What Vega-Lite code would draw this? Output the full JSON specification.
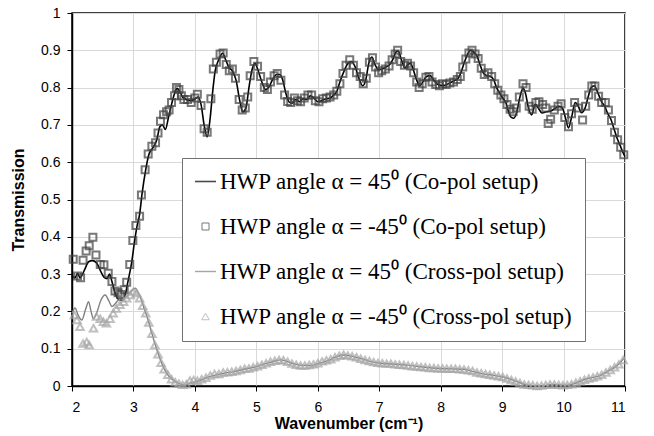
{
  "$schema": "https://vega.github.io/schema/vega-lite/v6.json",
  "width": 553,
  "height": 373,
  "autosize": {"type": "none"},
  "padding": {"left": 72, "top": 13, "right": 29, "bottom": 50},
  "background": "white",
  "config": {
    "view": {"stroke": "black", "strokeWidth": 1.5},
    "axis": {
      "labelFont": "Liberation Sans", "labelFontSize": 14, "labelColor": "black",
      "titleFont": "Liberation Sans", "titleFontSize": 16, "titleFontWeight": "bold", "titleColor": "black",
      "domainColor": "black", "domainWidth": 1.5, "tickColor": "black", "tickSize": 5,
      "gridColor": "#d9d9d9", "gridWidth": 1
    }
  },
  "data": {"values": [
    {"s":"a","x":2.00,"y":0.295},{"s":"a","x":2.05,"y":0.29},{"s":"a","x":2.09,"y":0.302},{"s":"a","x":2.13,"y":0.29},{"s":"a","x":2.2,"y":0.31},{"s":"a","x":2.27,"y":0.333},{"s":"a","x":2.33,"y":0.336},{"s":"a","x":2.40,"y":0.33},{"s":"a","x":2.46,"y":0.31},{"s":"a","x":2.52,"y":0.292},{"s":"a","x":2.57,"y":0.288},{"s":"a","x":2.61,"y":0.30},{"s":"a","x":2.65,"y":0.28},{"s":"a","x":2.70,"y":0.25},{"s":"a","x":2.76,"y":0.232},{"s":"a","x":2.82,"y":0.23},{"s":"a","x":2.86,"y":0.24},{"s":"a","x":2.91,"y":0.28},{"s":"a","x":2.97,"y":0.33},{"s":"a","x":3.02,"y":0.39},{"s":"a","x":3.06,"y":0.43},{"s":"a","x":3.10,"y":0.46},{"s":"a","x":3.14,"y":0.515},{"s":"a","x":3.2,"y":0.58},{"s":"a","x":3.25,"y":0.62},{"s":"a","x":3.32,"y":0.64},{"s":"a","x":3.38,"y":0.66},{"s":"a","x":3.43,"y":0.695},{"s":"a","x":3.47,"y":0.70},{"s":"a","x":3.52,"y":0.688},{"s":"a","x":3.57,"y":0.72},{"s":"a","x":3.62,"y":0.755},{"s":"a","x":3.67,"y":0.785},{"s":"a","x":3.71,"y":0.798},{"s":"a","x":3.75,"y":0.79},{"s":"a","x":3.80,"y":0.775},{"s":"a","x":3.86,"y":0.768},{"s":"a","x":3.93,"y":0.765},{"s":"a","x":3.99,"y":0.768},{"s":"a","x":4.05,"y":0.775},{"s":"a","x":4.10,"y":0.755},{"s":"a","x":4.15,"y":0.70},{"s":"a","x":4.2,"y":0.668},{"s":"a","x":4.25,"y":0.72},{"s":"a","x":4.29,"y":0.79},{"s":"a","x":4.33,"y":0.845},{"s":"a","x":4.39,"y":0.875},{"s":"a","x":4.45,"y":0.892},{"s":"a","x":4.50,"y":0.875},{"s":"a","x":4.55,"y":0.855},{"s":"a","x":4.61,"y":0.845},{"s":"a","x":4.67,"y":0.82},{"s":"a","x":4.73,"y":0.765},{"s":"a","x":4.78,"y":0.735},{"s":"a","x":4.83,"y":0.745},{"s":"a","x":4.88,"y":0.80},{"s":"a","x":4.93,"y":0.848},{"s":"a","x":4.98,"y":0.865},{"s":"a","x":5.03,"y":0.845},{"s":"a","x":5.09,"y":0.815},{"s":"a","x":5.15,"y":0.795},{"s":"a","x":5.2,"y":0.80},{"s":"a","x":5.26,"y":0.82},{"s":"a","x":5.33,"y":0.835},{"s":"a","x":5.38,"y":0.835},{"s":"a","x":5.43,"y":0.82},{"s":"a","x":5.48,"y":0.785},{"s":"a","x":5.53,"y":0.762},{"s":"a","x":5.58,"y":0.758},{"s":"a","x":5.64,"y":0.768},{"s":"a","x":5.70,"y":0.762},{"s":"a","x":5.76,"y":0.77},{"s":"a","x":5.82,"y":0.768},{"s":"a","x":5.88,"y":0.778},{"s":"a","x":5.94,"y":0.772},{"s":"a","x":6.00,"y":0.762},{"s":"a","x":6.06,"y":0.765},{"s":"a","x":6.13,"y":0.77},{"s":"a","x":6.20,"y":0.772},{"s":"a","x":6.26,"y":0.78},{"s":"a","x":6.31,"y":0.79},{"s":"a","x":6.37,"y":0.82},{"s":"a","x":6.43,"y":0.845},{"s":"a","x":6.49,"y":0.865},{"s":"a","x":6.55,"y":0.87},{"s":"a","x":6.61,"y":0.855},{"s":"a","x":6.67,"y":0.825},{"s":"a","x":6.73,"y":0.805},{"s":"a","x":6.78,"y":0.82},{"s":"a","x":6.83,"y":0.865},{"s":"a","x":6.88,"y":0.882},{"s":"a","x":6.93,"y":0.862},{"s":"a","x":6.99,"y":0.848},{"s":"a","x":7.05,"y":0.85},{"s":"a","x":7.11,"y":0.855},{"s":"a","x":7.17,"y":0.862},{"s":"a","x":7.22,"y":0.875},{"s":"a","x":7.27,"y":0.895},{"s":"a","x":7.31,"y":0.898},{"s":"a","x":7.36,"y":0.875},{"s":"a","x":7.42,"y":0.852},{"s":"a","x":7.47,"y":0.862},{"s":"a","x":7.51,"y":0.865},{"s":"a","x":7.56,"y":0.845},{"s":"a","x":7.61,"y":0.82},{"s":"a","x":7.66,"y":0.805},{"s":"a","x":7.71,"y":0.815},{"s":"a","x":7.77,"y":0.83},{"s":"a","x":7.83,"y":0.832},{"s":"a","x":7.88,"y":0.822},{"s":"a","x":7.94,"y":0.81},{"s":"a","x":8.00,"y":0.806},{"s":"a","x":8.06,"y":0.806},{"s":"a","x":8.12,"y":0.81},{"s":"a","x":8.18,"y":0.815},{"s":"a","x":8.24,"y":0.82},{"s":"a","x":8.29,"y":0.826},{"s":"a","x":8.34,"y":0.845},{"s":"a","x":8.39,"y":0.87},{"s":"a","x":8.44,"y":0.89},{"s":"a","x":8.49,"y":0.9},{"s":"a","x":8.54,"y":0.895},{"s":"a","x":8.59,"y":0.885},{"s":"a","x":8.64,"y":0.862},{"s":"a","x":8.69,"y":0.84},{"s":"a","x":8.75,"y":0.832},{"s":"a","x":8.81,"y":0.83},{"s":"a","x":8.86,"y":0.822},{"s":"a","x":8.91,"y":0.8},{"s":"a","x":8.96,"y":0.785},{"s":"a","x":9.01,"y":0.772},{"s":"a","x":9.06,"y":0.76},{"s":"a","x":9.10,"y":0.738},{"s":"a","x":9.15,"y":0.72},{"s":"a","x":9.19,"y":0.718},{"s":"a","x":9.24,"y":0.735},{"s":"a","x":9.29,"y":0.775},{"s":"a","x":9.34,"y":0.798},{"s":"a","x":9.38,"y":0.785},{"s":"a","x":9.43,"y":0.745},{"s":"a","x":9.48,"y":0.727},{"s":"a","x":9.54,"y":0.755},{"s":"a","x":9.60,"y":0.742},{"s":"a","x":9.65,"y":0.732},{"s":"a","x":9.72,"y":0.735},{"s":"a","x":9.80,"y":0.738},{"s":"a","x":9.87,"y":0.745},{"s":"a","x":9.93,"y":0.75},{"s":"a","x":9.98,"y":0.745},{"s":"a","x":10.03,"y":0.72},{"s":"a","x":10.08,"y":0.692},{"s":"a","x":10.13,"y":0.72},{"s":"a","x":10.19,"y":0.76},{"s":"a","x":10.24,"y":0.75},{"s":"a","x":10.29,"y":0.733},{"s":"a","x":10.35,"y":0.745},{"s":"a","x":10.40,"y":0.775},{"s":"a","x":10.45,"y":0.8},{"s":"a","x":10.50,"y":0.805},{"s":"a","x":10.56,"y":0.785},{"s":"a","x":10.62,"y":0.762},{"s":"a","x":10.67,"y":0.75},{"s":"a","x":10.72,"y":0.73},{"s":"a","x":10.77,"y":0.715},{"s":"a","x":10.82,"y":0.69},{"s":"a","x":10.87,"y":0.665},{"s":"a","x":10.92,"y":0.645},{"s":"a","x":10.97,"y":0.625},{"s":"a","x":11.0,"y":0.615},

    {"s":"b","x":2.02,"y":0.34},{"s":"b","x":2.09,"y":0.295},{"s":"b","x":2.14,"y":0.29},{"s":"b","x":2.18,"y":0.337},{"s":"b","x":2.23,"y":0.362},{"s":"b","x":2.28,"y":0.376},{"s":"b","x":2.34,"y":0.399},{"s":"b","x":2.39,"y":0.351},{"s":"b","x":2.46,"y":0.326},{"s":"b","x":2.52,"y":0.325},{"s":"b","x":2.59,"y":0.302},{"s":"b","x":2.65,"y":0.28},{"s":"b","x":2.70,"y":0.255},{"s":"b","x":2.75,"y":0.25},{"s":"b","x":2.79,"y":0.245},{"s":"b","x":2.85,"y":0.258},{"s":"b","x":2.89,"y":0.278},{"s":"b","x":2.94,"y":0.326},{"s":"b","x":2.99,"y":0.39},{"s":"b","x":3.04,"y":0.43},
    {"s":"b","x":3.10,"y":0.455},{"s":"b","x":3.13,"y":0.512},{"s":"b","x":3.19,"y":0.58},{"s":"b","x":3.24,"y":0.622},{"s":"b","x":3.30,"y":0.643},{"s":"b","x":3.36,"y":0.652},{"s":"b","x":3.40,"y":0.678},{"s":"b","x":3.44,"y":0.71},{"s":"b","x":3.49,"y":0.727},{"s":"b","x":3.54,"y":0.735},{"s":"b","x":3.58,"y":0.74},{"s":"b","x":3.62,"y":0.76},{"s":"b","x":3.67,"y":0.778},{"s":"b","x":3.70,"y":0.80},{"s":"b","x":3.74,"y":0.795},{"s":"b","x":3.78,"y":0.778},{"s":"b","x":3.82,"y":0.768},{"s":"b","x":3.88,"y":0.768},{"s":"b","x":3.94,"y":0.76},{"s":"b","x":4.00,"y":0.772},{"s":"b","x":4.04,"y":0.782},{"s":"b","x":4.10,"y":0.752},{"s":"b","x":4.15,"y":0.69},{"s":"b","x":4.20,"y":0.68},{"s":"b","x":4.26,"y":0.77},{"s":"b","x":4.30,"y":0.85},{"s":"b","x":4.35,"y":0.868},{"s":"b","x":4.41,"y":0.89},{"s":"b","x":4.46,"y":0.893},{"s":"b","x":4.51,"y":0.862},{"s":"b","x":4.56,"y":0.845},{"s":"b","x":4.61,"y":0.85},{"s":"b","x":4.66,"y":0.825},{"s":"b","x":4.72,"y":0.768},{"s":"b","x":4.77,"y":0.74},{"s":"b","x":4.82,"y":0.745},{"s":"b","x":4.86,"y":0.775},{"s":"b","x":4.90,"y":0.832},{"s":"b","x":4.96,"y":0.87},{"s":"b","x":5.02,"y":0.857},{"s":"b","x":5.07,"y":0.83},{"s":"b","x":5.13,"y":0.80},{"s":"b","x":5.18,"y":0.795},{"s":"b","x":5.23,"y":0.815},{"s":"b","x":5.29,"y":0.832},{"s":"b","x":5.34,"y":0.838},{"s":"b","x":5.40,"y":0.82},{"s":"b","x":5.46,"y":0.78},{"s":"b","x":5.51,"y":0.763},{"s":"b","x":5.56,"y":0.76},{"s":"b","x":5.62,"y":0.772},{"s":"b","x":5.67,"y":0.765},{"s":"b","x":5.72,"y":0.762},{"s":"b","x":5.78,"y":0.772},{"s":"b","x":5.84,"y":0.78},{"s":"b","x":5.90,"y":0.78},{"s":"b","x":5.96,"y":0.765},{"s":"b","x":6.02,"y":0.762},{"s":"b","x":6.08,"y":0.77},{"s":"b","x":6.14,"y":0.772},{"s":"b","x":6.20,"y":0.775},{"s":"b","x":6.26,"y":0.78},{"s":"b","x":6.31,"y":0.79},{"s":"b","x":6.36,"y":0.81},{"s":"b","x":6.41,"y":0.838},{"s":"b","x":6.46,"y":0.86},{"s":"b","x":6.52,"y":0.875},{"s":"b","x":6.58,"y":0.86},{"s":"b","x":6.63,"y":0.84},{"s":"b","x":6.69,"y":0.83},{"s":"b","x":6.74,"y":0.81},{"s":"b","x":6.79,"y":0.825},{"s":"b","x":6.84,"y":0.868},{"s":"b","x":6.89,"y":0.88},{"s":"b","x":6.94,"y":0.855},{"s":"b","x":6.99,"y":0.84},{"s":"b","x":7.04,"y":0.845},{"s":"b","x":7.10,"y":0.85},{"s":"b","x":7.16,"y":0.858},{"s":"b","x":7.21,"y":0.875},{"s":"b","x":7.26,"y":0.89},{"s":"b","x":7.30,"y":0.9},{"s":"b","x":7.35,"y":0.87},{"s":"b","x":7.41,"y":0.86},{"s":"b","x":7.46,"y":0.865},{"s":"b","x":7.51,"y":0.858},{"s":"b","x":7.56,"y":0.84},{"s":"b","x":7.61,"y":0.815},{"s":"b","x":7.65,"y":0.80},{"s":"b","x":7.70,"y":0.81},{"s":"b","x":7.76,"y":0.828},{"s":"b","x":7.81,"y":0.83},{"s":"b","x":7.86,"y":0.815},{"s":"b","x":7.92,"y":0.808},{"s":"b","x":7.98,"y":0.805},{"s":"b","x":8.03,"y":0.81},{"s":"b","x":8.09,"y":0.808},{"s":"b","x":8.15,"y":0.812},{"s":"b","x":8.21,"y":0.815},{"s":"b","x":8.27,"y":0.822},{"s":"b","x":8.32,"y":0.83},{"s":"b","x":8.36,"y":0.855},{"s":"b","x":8.41,"y":0.877},{"s":"b","x":8.46,"y":0.893},{"s":"b","x":8.51,"y":0.9},{"s":"b","x":8.56,"y":0.89},{"s":"b","x":8.61,"y":0.878},{"s":"b","x":8.66,"y":0.852},{"s":"b","x":8.71,"y":0.835},{"s":"b","x":8.77,"y":0.84},{"s":"b","x":8.83,"y":0.83},{"s":"b","x":8.88,"y":0.81},{"s":"b","x":8.93,"y":0.793},{"s":"b","x":8.98,"y":0.78},{"s":"b","x":9.03,"y":0.77},{"s":"b","x":9.08,"y":0.755},{"s":"b","x":9.13,"y":0.742},{"s":"b","x":9.18,"y":0.735},{"s":"b","x":9.23,"y":0.745},{"s":"b","x":9.28,"y":0.775},{"s":"b","x":9.34,"y":0.81},{"s":"b","x":9.39,"y":0.80},{"s":"b","x":9.44,"y":0.75},{"s":"b","x":9.49,"y":0.742},{"s":"b","x":9.55,"y":0.76},{"s":"b","x":9.60,"y":0.762},{"s":"b","x":9.66,"y":0.755},{"s":"b","x":9.71,"y":0.745},{"s":"b","x":9.75,"y":0.704},{"s":"b","x":9.79,"y":0.715},{"s":"b","x":9.85,"y":0.74},{"s":"b","x":9.91,"y":0.75},{"s":"b","x":9.96,"y":0.757},{"s":"b","x":10.02,"y":0.72},{"s":"b","x":10.08,"y":0.695},{"s":"b","x":10.13,"y":0.73},{"s":"b","x":10.18,"y":0.76},{"s":"b","x":10.24,"y":0.745},{"s":"b","x":10.31,"y":0.713},{"s":"b","x":10.36,"y":0.75},{"s":"b","x":10.41,"y":0.78},{"s":"b","x":10.46,"y":0.804},{"s":"b","x":10.51,"y":0.804},{"s":"b","x":10.57,"y":0.777},{"s":"b","x":10.62,"y":0.76},{"s":"b","x":10.68,"y":0.76},{"s":"b","x":10.73,"y":0.74},{"s":"b","x":10.78,"y":0.712},{"s":"b","x":10.83,"y":0.68},{"s":"b","x":10.88,"y":0.66},{"s":"b","x":10.93,"y":0.64},{"s":"b","x":10.98,"y":0.62},

    {"s":"c","x":2.00,"y":0.195},{"s":"c","x":2.05,"y":0.209},{"s":"c","x":2.10,"y":0.19},{"s":"c","x":2.16,"y":0.177},{"s":"c","x":2.22,"y":0.205},{"s":"c","x":2.27,"y":0.226},{"s":"c","x":2.31,"y":0.2},{"s":"c","x":2.35,"y":0.18},{"s":"c","x":2.41,"y":0.2},{"s":"c","x":2.47,"y":0.23},{"s":"c","x":2.54,"y":0.244},{"s":"c","x":2.6,"y":0.228},{"s":"c","x":2.65,"y":0.213},{"s":"c","x":2.70,"y":0.22},{"s":"c","x":2.75,"y":0.23},{"s":"c","x":2.82,"y":0.235},{"s":"c","x":2.89,"y":0.24},{"s":"c","x":2.96,"y":0.255},{"s":"c","x":3.03,"y":0.262},{"s":"c","x":3.08,"y":0.25},{"s":"c","x":3.13,"y":0.23},{"s":"c","x":3.18,"y":0.205},{"s":"c","x":3.22,"y":0.186},{"s":"c","x":3.26,"y":0.165},{"s":"c","x":3.30,"y":0.141},{"s":"c","x":3.35,"y":0.113},{"s":"c","x":3.40,"y":0.088},{"s":"c","x":3.45,"y":0.065},{"s":"c","x":3.51,"y":0.043},{"s":"c","x":3.58,"y":0.025},{"s":"c","x":3.68,"y":0.012},{"s":"c","x":3.76,"y":0.005},{"s":"c","x":3.84,"y":0.002},{"s":"c","x":3.92,"y":0.008},{"s":"c","x":4.03,"y":0.012},{"s":"c","x":4.15,"y":0.02},{"s":"c","x":4.25,"y":0.026},{"s":"c","x":4.35,"y":0.03},{"s":"c","x":4.5,"y":0.035},{"s":"c","x":4.62,"y":0.038},{"s":"c","x":4.8,"y":0.045},{"s":"c","x":5.0,"y":0.052},{"s":"c","x":5.15,"y":0.06},{"s":"c","x":5.3,"y":0.067},{"s":"c","x":5.39,"y":0.07},{"s":"c","x":5.5,"y":0.066},{"s":"c","x":5.6,"y":0.06},{"s":"c","x":5.71,"y":0.056},{"s":"c","x":5.88,"y":0.055},{"s":"c","x":6.04,"y":0.062},{"s":"c","x":6.2,"y":0.07},{"s":"c","x":6.3,"y":0.078},{"s":"c","x":6.42,"y":0.083},{"s":"c","x":6.55,"y":0.08},{"s":"c","x":6.69,"y":0.074},{"s":"c","x":6.85,"y":0.066},{"s":"c","x":7.01,"y":0.061},{"s":"c","x":7.2,"y":0.059},{"s":"c","x":7.45,"y":0.056},{"s":"c","x":7.7,"y":0.051},{"s":"c","x":7.99,"y":0.047},{"s":"c","x":8.2,"y":0.046},{"s":"c","x":8.37,"y":0.045},{"s":"c","x":8.5,"y":0.04},{"s":"c","x":8.64,"y":0.034},{"s":"c","x":8.8,"y":0.03},{"s":"c","x":8.99,"y":0.025},{"s":"c","x":9.1,"y":0.02},{"s":"c","x":9.24,"y":0.012},{"s":"c","x":9.40,"y":0.003},{"s":"c","x":9.62,"y":0.0},{"s":"c","x":9.83,"y":0.004},{"s":"c","x":10.05,"y":0.002},{"s":"c","x":10.2,"y":0.008},{"s":"c","x":10.32,"y":0.016},{"s":"c","x":10.45,"y":0.022},{"s":"c","x":10.54,"y":0.025},{"s":"c","x":10.65,"y":0.033},{"s":"c","x":10.76,"y":0.043},{"s":"c","x":10.85,"y":0.052},{"s":"c","x":10.92,"y":0.062},{"s":"c","x":11.0,"y":0.078},

    {"s":"d","x":2.04,"y":0.19},{"s":"d","x":2.08,"y":0.177},{"s":"d","x":2.13,"y":0.159},{"s":"d","x":2.18,"y":0.114},{"s":"d","x":2.24,"y":0.118},{"s":"d","x":2.28,"y":0.11},{"s":"d","x":2.35,"y":0.155},{"s":"d","x":2.40,"y":0.186},{"s":"d","x":2.46,"y":0.18},{"s":"d","x":2.51,"y":0.172},{"s":"d","x":2.56,"y":0.168},{"s":"d","x":2.62,"y":0.18},{"s":"d","x":2.67,"y":0.195},{"s":"d","x":2.72,"y":0.208},{"s":"d","x":2.78,"y":0.218},{"s":"d","x":2.84,"y":0.226},{"s":"d","x":2.89,"y":0.235},{"s":"d","x":2.95,"y":0.244},{"s":"d","x":3.0,"y":0.253},{"s":"d","x":3.05,"y":0.249},
    {"s":"d","x":3.10,"y":0.235},{"s":"d","x":3.15,"y":0.215},{"s":"d","x":3.20,"y":0.195},{"s":"d","x":3.25,"y":0.17},{"s":"d","x":3.30,"y":0.14},{"s":"d","x":3.35,"y":0.11},{"s":"d","x":3.40,"y":0.085},{"s":"d","x":3.45,"y":0.062},{"s":"d","x":3.50,"y":0.045},{"s":"d","x":3.56,"y":0.03},{"s":"d","x":3.62,"y":0.018},{"s":"d","x":3.68,"y":0.01},{"s":"d","x":3.74,"y":0.006},{"s":"d","x":3.80,"y":0.003},{"s":"d","x":3.86,"y":0.005},{"s":"d","x":3.92,"y":0.015},{"s":"d","x":3.98,"y":0.016},{"s":"d","x":4.04,"y":0.014},{"s":"d","x":4.11,"y":0.018},{"s":"d","x":4.18,"y":0.022},{"s":"d","x":4.25,"y":0.028},{"s":"d","x":4.32,"y":0.032},{"s":"d","x":4.39,"y":0.032},{"s":"d","x":4.46,"y":0.036},{"s":"d","x":4.53,"y":0.037},{"s":"d","x":4.60,"y":0.038},{"s":"d","x":4.67,"y":0.04},{"s":"d","x":4.74,"y":0.043},{"s":"d","x":4.81,"y":0.046},{"s":"d","x":4.88,"y":0.047},{"s":"d","x":4.95,"y":0.05},{"s":"d","x":5.02,"y":0.053},{"s":"d","x":5.09,"y":0.057},{"s":"d","x":5.16,"y":0.061},{"s":"d","x":5.23,"y":0.065},{"s":"d","x":5.30,"y":0.068},{"s":"d","x":5.37,"y":0.07},{"s":"d","x":5.44,"y":0.069},{"s":"d","x":5.51,"y":0.065},{"s":"d","x":5.58,"y":0.06},{"s":"d","x":5.65,"y":0.057},{"s":"d","x":5.72,"y":0.055},{"s":"d","x":5.79,"y":0.055},{"s":"d","x":5.86,"y":0.056},{"s":"d","x":5.93,"y":0.058},{"s":"d","x":6.00,"y":0.061},{"s":"d","x":6.07,"y":0.066},{"s":"d","x":6.14,"y":0.069},{"s":"d","x":6.21,"y":0.072},{"s":"d","x":6.28,"y":0.077},{"s":"d","x":6.35,"y":0.081},{"s":"d","x":6.42,"y":0.084},{"s":"d","x":6.49,"y":0.082},{"s":"d","x":6.56,"y":0.08},{"s":"d","x":6.63,"y":0.077},{"s":"d","x":6.70,"y":0.073},{"s":"d","x":6.77,"y":0.07},{"s":"d","x":6.84,"y":0.067},{"s":"d","x":6.91,"y":0.064},{"s":"d","x":6.98,"y":0.062},{"s":"d","x":7.05,"y":0.061},{"s":"d","x":7.12,"y":0.06},{"s":"d","x":7.19,"y":0.06},{"s":"d","x":7.26,"y":0.058},{"s":"d","x":7.33,"y":0.057},{"s":"d","x":7.40,"y":0.056},{"s":"d","x":7.47,"y":0.055},{"s":"d","x":7.54,"y":0.053},{"s":"d","x":7.61,"y":0.052},{"s":"d","x":7.68,"y":0.051},{"s":"d","x":7.75,"y":0.05},{"s":"d","x":7.82,"y":0.048},{"s":"d","x":7.89,"y":0.048},{"s":"d","x":7.96,"y":0.047},{"s":"d","x":8.03,"y":0.047},{"s":"d","x":8.10,"y":0.046},{"s":"d","x":8.17,"y":0.046},{"s":"d","x":8.24,"y":0.046},{"s":"d","x":8.31,"y":0.045},{"s":"d","x":8.38,"y":0.044},{"s":"d","x":8.45,"y":0.042},{"s":"d","x":8.52,"y":0.04},{"s":"d","x":8.59,"y":0.036},{"s":"d","x":8.66,"y":0.034},{"s":"d","x":8.73,"y":0.032},{"s":"d","x":8.80,"y":0.03},{"s":"d","x":8.87,"y":0.028},{"s":"d","x":8.94,"y":0.026},{"s":"d","x":9.01,"y":0.024},{"s":"d","x":9.08,"y":0.02},{"s":"d","x":9.15,"y":0.016},{"s":"d","x":9.22,"y":0.012},{"s":"d","x":9.29,"y":0.008},{"s":"d","x":9.36,"y":0.004},{"s":"d","x":9.43,"y":0.003},{"s":"d","x":9.50,"y":0.002},{"s":"d","x":9.57,"y":0.0},{"s":"d","x":9.64,"y":0.001},{"s":"d","x":9.71,"y":0.003},{"s":"d","x":9.78,"y":0.004},{"s":"d","x":9.85,"y":0.004},{"s":"d","x":9.92,"y":0.003},{"s":"d","x":9.99,"y":0.002},{"s":"d","x":10.06,"y":0.003},{"s":"d","x":10.13,"y":0.005},{"s":"d","x":10.20,"y":0.009},{"s":"d","x":10.27,"y":0.013},{"s":"d","x":10.34,"y":0.017},{"s":"d","x":10.41,"y":0.02},{"s":"d","x":10.48,"y":0.023},{"s":"d","x":10.55,"y":0.026},{"s":"d","x":10.62,"y":0.03},{"s":"d","x":10.69,"y":0.036},{"s":"d","x":10.76,"y":0.043},{"s":"d","x":10.83,"y":0.05},{"s":"d","x":10.90,"y":0.058},{"s":"d","x":10.97,"y":0.07}
  ]},
  "encoding": {
    "x": {"field": "x", "type": "quantitative",
      "scale": {"domain": [2, 11], "nice": false, "zero": false},
      "axis": {"title": "Wavenumber  (cm⁻¹)", "values": [2,3,4,5,6,7,8,9,10,11], "labelPadding": 9, "titlePadding": 1}},
    "y": {"field": "y", "type": "quantitative",
      "scale": {"domain": [0, 1], "nice": false},
      "axis": {"title": "Transmission", "values": [0,0.1,0.2,0.3,0.4,0.5,0.6,0.7,0.8,0.9,1], "format": "~g", "labelPadding": 7, "titlePadding": 14}},
    "color": {"field": "s", "type": "nominal",
      "scale": {"type": "ordinal", "domain": ["a","b","c","d"], "range": ["#000000","#404040","#808080","#a6a6a6"]},
      "legend": {
        "title": null, "orient": "none", "legendX": 110, "legendY": 145,
        "direction": "vertical",
        "fillColor": "white", "strokeColor": "#707070", "padding": 12,
        "labelFont": "Liberation Serif", "labelFontSize": 23, "labelColor": "black", "labelLimit": 500,
        "labelOffset": 3, "rowPadding": 21, "symbolFillColor": "transparent",
        "labelExpr": "datum.label == 'a' ? 'HWP angle α = 45⁰ (Co-pol setup)' : datum.label == 'b' ? 'HWP angle α = -45⁰ (Co-pol setup)' : datum.label == 'c' ? 'HWP angle α = 45⁰ (Cross-pol setup)' : 'HWP angle α = -45⁰ (Cross-pol setup)'"
      }
    }
  },
  "layer": [
    {
      "transform": [{"filter": "datum.s == 'a' || datum.s == 'c'"}],
      "mark": {"type": "line", "interpolate": "monotone"},
      "encoding": {
        "strokeWidth": {"field": "s", "type": "nominal", "scale": {"type": "ordinal", "domain": ["a","b","c","d"], "range": [1.6, 1, 1.4, 1]}}
      }
    },
    {
      "transform": [{"filter": "datum.s == 'b' || datum.s == 'd'"}],
      "mark": {"type": "point", "filled": false},
      "encoding": {
        "shape": {"field": "s", "type": "nominal", "scale": {"domain": ["a","b","c","d"], "range": ["stroke","square","stroke","triangle-up"]}},
        "size": {"field": "s", "type": "nominal", "scale": {"type": "ordinal", "domain": ["a","b","c","d"], "range": [440, 49, 440, 56]}}
      }
    }
  ]
}
